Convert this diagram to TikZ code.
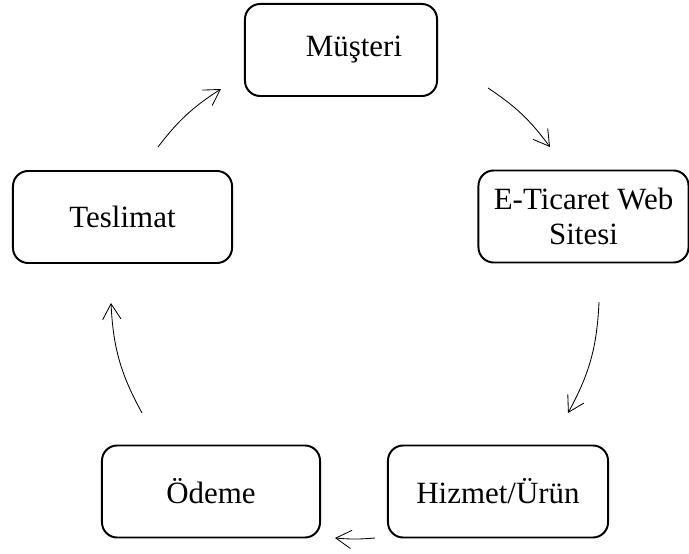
\documentclass[tikz,border=0pt]{standalone}
\usepackage{fontspec}
\setmainfont{Liberation Serif}
\usetikzlibrary{arrows.meta}
\tikzset{
  kutu/.style={draw, line width=1.4pt, rounded corners=0.38cm, minimum height=2.3cm,
    align=center, font=\fontsize{22}{25}\selectfont},
  ok/.style={-{Straight Barb[length=11pt,width=13pt]}, line width=0.6pt, bend left=#1}
}
\begin{document}
\begin{tikzpicture}[x=0.025cm, y=0.025cm]
\useasboundingbox (0,0) rectangle (689,553);
\node[kutu, minimum width=4.8cm] (musteri) at (341,503) {\hspace*{0.65cm}Müşteri};
\node[kutu, minimum width=5.25cm] (site) at (583.5,336.5) {E-Ticaret Web\\Sitesi};
\node[kutu, minimum width=5.5cm] (urun) at (498,61.5) {Hizmet/Ürün};
\node[kutu, minimum width=5.45cm] (odeme) at (211,61.5) {Ödeme};
\node[kutu, minimum width=5.475cm] (teslimat) at (122.5,336) {Teslimat};
\coordinate (m1) at (488,465);
\coordinate (m2) at (550,406);
\coordinate (s1) at (599,251);
\coordinate (s2) at (568,140);
\coordinate (u1) at (375,15);
\coordinate (u2) at (335,15);
\coordinate (o1) at (142,140);
\coordinate (o2) at (111,250);
\coordinate (t1) at (158,406);
\coordinate (t2) at (221,464);
\draw[ok=10] (m1) to (m2);
\draw[ok=13] (s1) to (s2);
\draw[ok=5] (u1) to (u2);
\draw[ok=13] (o1) to (o2);
\draw[ok=10] (t1) to (t2);
\end{tikzpicture}
\end{document}
